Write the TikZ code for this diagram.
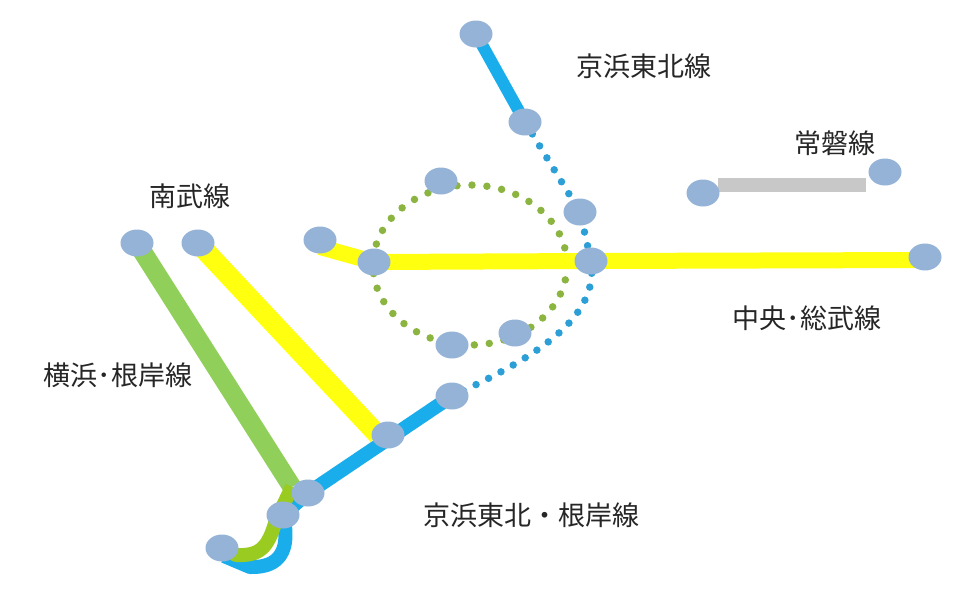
\documentclass[tikz,border=0pt]{standalone}
\usepackage{fontspec}
\usepackage{tikz}
\usetikzlibrary{arrows,shapes}
\newfontfamily\jpfont{Noto Sans CJK JP}
\definecolor{stationblue}{HTML}{95B3D7}
\definecolor{kblue}{HTML}{1AADEB}
\definecolor{kdot}{HTML}{2C9FD6}
\definecolor{ygreen}{HTML}{8FCF5A}
\definecolor{yhook}{HTML}{9ACB20}
\definecolor{ydot}{HTML}{8BB440}
\definecolor{cyellow}{HTML}{FFFF10}
\definecolor{jgray}{HTML}{C8C8C8}
\pgfdeclarelayer{background}
\pgfsetlayers{background,main}
\tikzstyle{station}=[ellipse,fill=stationblue,minimum width=33pt,minimum height=27pt,inner sep=0pt]
\tikzstyle{linelabel}=[font=\jpfont\fontsize{27}{32}\selectfont,text=black!85,inner sep=0pt]
\tikzstyle{track}=[draw,line cap=butt,line join=round]
\tikzstyle{dotline}=[draw,line width=7.5pt,line cap=round,dash pattern=on 0pt off 15pt]

\begin{document}
\begin{tikzpicture}[x=1pt,y=-1pt]
    \useasboundingbox (0,0) rectangle (964,600);
    % First we draw the stations
    \foreach \pos/\name in {{(476,34)/KT_1}, {(525,122)/KT_2}, {(580,212)/KT_3},
        {(320,240)/CS_1}, {(374,262)/CS_2}, {(591,261)/CS_3}, {(925,257)/CS_4},
        {(703,193)/JB_1}, {(885,172)/JB_2},
        {(441,181)/YT_1}, {(452,345)/YT_2}, {(515,333)/YT_3},
        {(137,243)/YN_1}, {(198,243)/NB_1}, {(388,435)/NB_2},
        {(452,396)/KN_1}, {(308,493)/KN_2}, {(283,515)/KN_3}, {(222,548)/KN_4}}
        \node[station] (\name) at \pos {};

    % Line names
    \node[linelabel] (lbl_KT) at (644,66) {京浜東北線};
    \node[linelabel] (lbl_JB) at (835,143) {常磐線};
    \node[linelabel] (lbl_NB) at (190,196) {南武線};
    \node[linelabel] (lbl_CS) at (807,318) {中央･総武線};
    \node[linelabel] (lbl_YN) at (118,375) {横浜･根岸線};
    \node[linelabel] (lbl_KN) at (531,515) {京浜東北・根岸線};

    \coordinate (YN_bend) at (292,487);

    % Connect stations with tracks, below the stations
    \begin{pgfonlayer}{background}
        \draw[dotline,ydot] (470,265) ellipse [x radius=97,y radius=80];
        \path[dotline,kdot,dash pattern=on 0pt off 14pt] (KT_2.center) -- (KT_3.center) -- (CS_3.center)
            .. controls (600,320) and (530,360) .. (KN_1.center);
        \path[track,kblue,line width=12pt] (KT_1.center) -- (KT_2.center);
        \path[track,jgray,line width=14pt] (JB_1.center) ++(15,-8) -- ++(148,0);
        \path[track,cyellow,line width=16pt] ([yshift=-7pt]CS_1.center) -- (CS_2.center)
            -- (CS_3.center) -- ([yshift=-3pt]CS_4.center);
        \path[track,cyellow,line width=20pt] (NB_1.center) -- ([xshift=-10pt]NB_2.center);
        \path[track,kblue,line width=14pt] (KN_1.center) -- (KN_2.center) -- (KN_3.center)
            .. controls (291,550) and (280,568) .. (250,567) -- ([xshift=2pt,yshift=-8pt]KN_4.center);
        \path[track,ygreen,line width=19pt] (YN_1.center) -- (YN_bend);
        \path[track,yhook,line width=14pt] (YN_bend) -- (276,520)
            .. controls (268,548) and (260,556) .. (236,555) -- (KN_4.center);
    \end{pgfonlayer}
\end{tikzpicture}
\end{document}
